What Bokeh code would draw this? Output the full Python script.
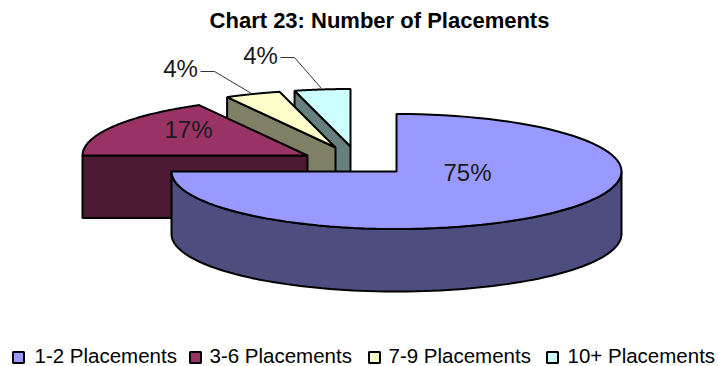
import numpy as np
from bokeh.plotting import figure
from bokeh.embed import file_html
from bokeh.resources import INLINE
from bokeh.models import Range1d
from bokeh.core.properties import value

title = "Chart 23: Number of Placements"
categories = ["1-2 Placements", "3-6 Placements", "7-9 Placements", "10+ Placements"]
shares = [75, 17, 4, 4]
top_colors = ["#9999FF", "#993366", "#FFFFCC", "#CCFFFF"]
side_colors = ["#4D4D80", "#4D1A33", "#808066", "#668080"]
apexes = [(396, 171), (307, 155), (335, 147), (350, 146)]
RX, RY, DEPTH = 225, 57.5, 62.5
FONT = value("Liberation Sans")

p = figure(width=718, height=366, output_backend="svg", toolbar_location=None,
           x_range=Range1d(0, 718), y_range=Range1d(366, 0), min_border=0,
           outline_line_color=None, background_fill_color="white")
p.axis.visible = False
p.grid.visible = False

def rim(apex, a0, a1):
    t = np.radians(np.linspace(a0, a1, 90))
    return apex[0] + RX * np.sin(t), apex[1] - RY * np.cos(t)

starts = np.cumsum([0] + shares[:-1]) * 3.6
ends = np.cumsum(shares) * 3.6
LW = 2

for i in [3, 2, 1, 0]:
    ax, ay = apexes[i]
    a0, a1 = starts[i], ends[i]
    if i == 0:
        xs, ys = rim(apexes[i], 90, a1)
        p.patch(np.r_[xs, xs[::-1]], np.r_[ys, ys[::-1] + DEPTH],
                fill_color=side_colors[i], line_color="black", line_width=LW)
    else:
        sx, sy = rim(apexes[i], a0, a0)
        p.patch([sx[0], ax, ax, sx[0]], [sy[0], ay, ay + DEPTH, sy[0] + DEPTH],
                fill_color=side_colors[i], line_color="black", line_width=LW)
    xs, ys = rim(apexes[i], a0, a1)
    p.patch(np.r_[ax, xs], np.r_[ay, ys], fill_color=top_colors[i],
            line_color="black", line_width=LW)

p.line([200, 214, 251], [71, 71, 93], line_color="#333333", line_width=1)
p.line([280, 294, 321], [57, 57, 88], line_color="#333333", line_width=1)

lab_x = [467, 188, 180, 260]
lab_y = [171.5, 128.5, 67.5, 54.5]
p.text(lab_x, lab_y, text=[f"{v}%" for v in shares], text_font=FONT, text_font_size="24px",
       text_align="center", text_baseline="middle", text_color="#1a1a1a")

p.text([379], [20], text=[title], text_font=FONT, text_font_size="22px", text_font_style="bold",
       text_align="center", text_baseline="middle", text_color="black")

box_x = [18, 195, 374, 552]
text_x = [34, 209, 388, 567]
p.scatter(box_x, [357] * 4, marker="square", size=11, fill_color=top_colors, line_color="black", line_width=2)
p.text(text_x, [354.5] * 4, text=categories, text_font=FONT, text_font_size="20.5px",
       text_align="left", text_baseline="middle", text_color="black")

open("out.html", "w").write(file_html(p, INLINE))
